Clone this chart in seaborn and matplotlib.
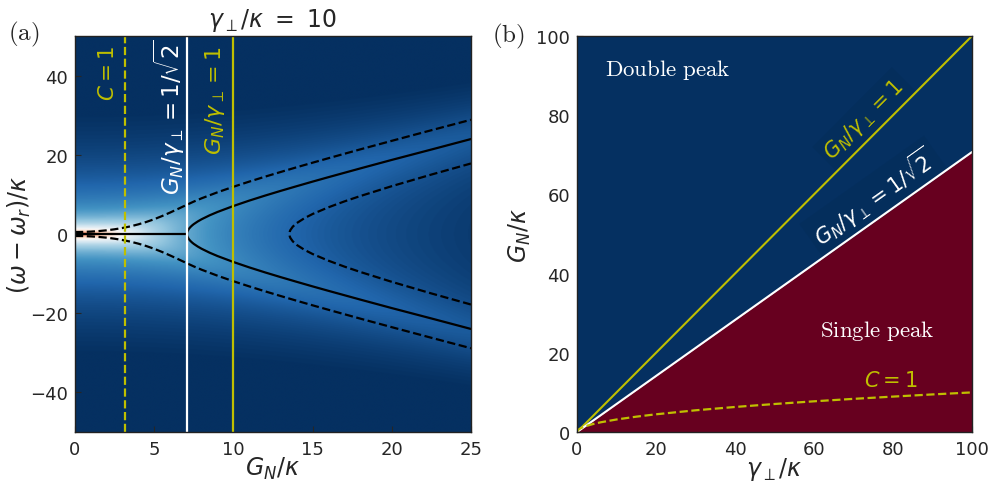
import numpy as np
import matplotlib
matplotlib.use("Agg")
import matplotlib.pyplot as plt
import seaborn as sns

# ---- model parameters (frequencies in units of kappa) ----
kappa = 1.0
gamma_perp = 10.0

# ---- panel (a): reference couplings ----
G_coop = 3.16     # C = 1
G_split = 7.07    # G_N / gamma_perp = 1/sqrt(2)
G_equal = 10.0    # G_N / gamma_perp = 1

# single central peak below the splitting threshold
G_center = [0.0, 7.071]
D_center = [0.0, 0.0]

# normal-mode peak positions above the threshold
G_peak = [7.071, 7.08, 7.1, 7.15, 7.2, 7.3, 7.4, 7.5, 7.75, 8.0, 8.5, 9.0,
          10.0, 11.0, 12.0, 13.0, 14.0, 15.0, 16.0, 18.0, 20.0, 22.5, 25.0]
D_peak = [0.0, 0.36, 0.64, 1.06, 1.36, 1.81, 2.18, 2.50, 3.17, 3.74, 4.72, 5.57,
          7.07, 8.43, 9.70, 10.91, 12.08, 13.23, 14.35, 16.55, 18.71, 21.33, 23.98]

# outer half-maximum contour
G_outer = [0.0, 0.5, 1.0, 1.5, 2.0, 2.5, 3.0, 3.5, 4.0, 4.5, 5.0, 5.5, 6.0, 6.5,
           7.0, 7.08, 7.5, 8.0, 9.0, 10.0, 11.0, 12.0, 13.0, 14.0, 15.0, 16.0,
           18.0, 20.0, 22.5, 25.0]
D_outer = [0.50, 0.52, 0.60, 0.74, 0.93, 1.19, 1.52, 1.93, 2.44, 3.04, 3.74, 4.54,
           5.41, 6.33, 7.27, 7.42, 8.19, 9.03, 10.54, 11.93, 13.23, 14.48, 15.68,
           16.86, 18.01, 19.14, 21.36, 23.53, 26.21, 28.85]

# inner half-maximum contour (dip between the two peaks)
G_inner = [13.54, 13.56, 13.6, 13.75, 14.0, 14.5, 15.0, 16.0, 17.0, 18.0, 20.0, 22.5, 25.0]
D_inner = [0.0, 0.62, 1.01, 1.86, 2.76, 4.03, 5.05, 6.74, 8.22, 9.57, 12.08, 15.01, 17.81]

# ---- panel (b): phase diagram ----
gamma_line = [0.0, 100.0]
G_line_equal = [0.0, 100.0]
G_line_split = [0.0, 70.71]
gamma_coop = [0, 0.25, 1, 2, 4, 6, 10, 15, 20, 30, 40, 50, 60, 70, 80, 90, 100]
G_coop_line = [0, 0.5, 1.0, 1.41, 2.0, 2.45, 3.16, 3.87, 4.47, 5.48, 6.32, 7.07,
               7.75, 8.37, 8.94, 9.49, 10.0]

BLUE = "#053061"
RED = "#67001f"
YEL = "#bfbf00"

sns.set_style("ticks")
plt.rcParams.update({
    "font.family": ["DejaVu Sans"],
    "mathtext.fontset": "dejavusans",
    "xtick.direction": "in",
    "ytick.direction": "in",
    "xtick.labelsize": 13,
    "ytick.labelsize": 13,
    "xtick.major.size": 4,
    "ytick.major.size": 4,
    "xtick.major.pad": 5.5,
    "ytick.major.pad": 5,
    "axes.edgecolor": "#222222",
    "axes.linewidth": 1.0,
})

fig = plt.figure(figsize=(9.95, 4.89), dpi=100)
W, H = 995.0, 489.0
ax_a = fig.add_axes([75 / W, (H - 433) / H, 396 / W, 396 / H])
ax_b = fig.add_axes([577 / W, (H - 433) / H, 395 / W, 396 / H])

# ---------------- panel (a) ----------------
# spectral response 1/|(i D + kappa/2)(i D + gamma) + G^2|^2, normalised to its maximum
G_axis = np.linspace(0, 25, 501)
D_axis = np.linspace(-50, 50, 1001)
GG, DD = np.meshgrid(G_axis, D_axis)
resp = 1.0 / np.abs((1j * DD + kappa / 2) * (1j * DD + gamma_perp) + GG ** 2) ** 2
z = (resp / resp.max()) ** 0.2
ax_a.imshow(z, extent=[0, 25, -50, 50], origin="lower", aspect="auto",
            cmap="RdBu_r", vmin=0.12, vmax=1.2, interpolation="bilinear")

lw = 1.6
sns.lineplot(x=G_center, y=D_center, color="k", lw=lw, sort=False, estimator=None, ax=ax_a)
G_branch = G_peak[::-1] + G_peak
D_branch = [-d for d in D_peak[::-1]] + D_peak
sns.lineplot(x=G_branch, y=D_branch, color="k", lw=lw, sort=False, estimator=None, ax=ax_a)
sns.lineplot(x=G_outer, y=D_outer, color="k", lw=lw, ls="--", sort=False, estimator=None, ax=ax_a)
sns.lineplot(x=G_outer, y=[-d for d in D_outer], color="k", lw=lw, ls="--", sort=False,
             estimator=None, ax=ax_a)
G_in = G_inner[::-1] + G_inner[1:]
D_in = [-d for d in D_inner[::-1]] + D_inner[1:]
sns.lineplot(x=G_in, y=D_in, color="k", lw=lw, ls="--", sort=False, estimator=None, ax=ax_a)

ax_a.axvline(G_coop, color=YEL, lw=1.6, ls="--")
ax_a.axvline(G_split, color="white", lw=1.6)
ax_a.axvline(G_equal, color=YEL, lw=1.6)

ax_a.text(2.08, 47.8, r"$C = 1$", color=YEL, fontsize=15.5, rotation=90,
          ha="center", va="top")
ax_a.text(5.93, 49.5, r"$G_N/\gamma_\perp = 1/\sqrt{2}$", color="white", fontsize=16.5,
          rotation=90, ha="center", va="top")
ax_a.text(8.84, 47.8, r"$G_N/\gamma_\perp = 1$", color=YEL, fontsize=16, rotation=90,
          ha="center", va="top")

ax_a.set_xlim(0, 25)
ax_a.set_ylim(-50, 50)
ax_a.set_xticks([0, 5, 10, 15, 20, 25])
ax_a.set_yticks([-40, -20, 0, 20, 40])
ax_a.set_xlabel(r"$G_N/\kappa$", fontsize=17)
ax_a.set_ylabel(r"$(\omega-\omega_r)/\kappa$", fontsize=17)
ax_a.xaxis.set_label_coords(0.5, -0.058)
ax_a.yaxis.set_label_coords(-0.105, 0.5)
ax_a.set_title(r"$\gamma_\perp/\kappa\ =\ 10$", fontsize=17, pad=7)

# ---------------- panel (b) ----------------
ax_b.set_xlim(0, 100)
ax_b.set_ylim(0, 100)
ax_b.fill_between(gamma_line, G_line_split, [100, 100], color=BLUE, lw=0, zorder=1)
ax_b.fill_between(gamma_line, [0, 0], G_line_split, color=RED, lw=0, zorder=1)
sns.lineplot(x=gamma_line, y=G_line_equal, color=YEL, lw=1.5, sort=False, estimator=None,
             ax=ax_b, zorder=3)
sns.lineplot(x=gamma_line, y=G_line_split, color="white", lw=1.5, sort=False, estimator=None,
             ax=ax_b, zorder=3)
sns.lineplot(x=gamma_coop, y=G_coop_line, color=YEL, lw=1.6, ls="--", sort=False,
             estimator=None, ax=ax_b, zorder=3)

def slope_angle(ax, x0, y0, x1, y1):
    p0 = ax.transData.transform((x0, y0))
    p1 = ax.transData.transform((x1, y1))
    return np.degrees(np.arctan2(p1[1] - p0[1], p1[0] - p0[0]))

ang_eq = slope_angle(ax_b, gamma_line[0], G_line_equal[0], gamma_line[1], G_line_equal[1])
ang_sp = slope_angle(ax_b, gamma_line[0], G_line_split[0], gamma_line[1], G_line_split[1])

box = dict(boxstyle="square,pad=0.25", fc="#02264c", ec="none", alpha=0.2)
ax_b.text(72.7, 79.0, r"$G_N/\gamma_\perp = 1$", color=YEL, fontsize=15,
          rotation=ang_eq, rotation_mode="anchor", ha="center", va="center", bbox=box,
          zorder=2)
ax_b.text(75.2, 59.3, r"$G_N/\gamma_\perp = 1/\sqrt{2}$", color="white", fontsize=15,
          rotation=ang_sp, rotation_mode="anchor", ha="center", va="center", bbox=box,
          zorder=2)
ax_b.text(79.5, 13.2, r"$C = 1$", color=YEL, fontsize=15, ha="center", va="center")

ax_b.text(7.2, 91.7, r"$\mathrm{Double\ peak}$", math_fontfamily="cm", color="white",
          fontsize=16.5, ha="left", va="center")
ax_b.text(61.5, 25.7, r"$\mathrm{Single\ peak}$", math_fontfamily="cm", color="white",
          fontsize=16.5, ha="left", va="center")

ax_b.set_xticks([0, 20, 40, 60, 80, 100])
ax_b.set_yticks([0, 20, 40, 60, 80, 100])
ax_b.set_xlabel(r"$\gamma_\perp/\kappa$", fontsize=17)
ax_b.set_ylabel(r"$G_N/\kappa$", fontsize=17)
ax_b.xaxis.set_label_coords(0.5, -0.058)
ax_b.yaxis.set_label_coords(-0.111, 0.5)

for ax in (ax_a, ax_b):
    for sp in ax.spines.values():
        sp.set_zorder(5)

fig.text(8 / W, 1 - 34 / H, r"$\mathrm{(a)}$", math_fontfamily="cm", fontsize=18,
         ha="left", va="center")
fig.text(492 / W, 1 - 36 / H, r"$\mathrm{(b)}$", math_fontfamily="cm", fontsize=18,
         ha="left", va="center")

fig.savefig("out.png", dpi=100)
